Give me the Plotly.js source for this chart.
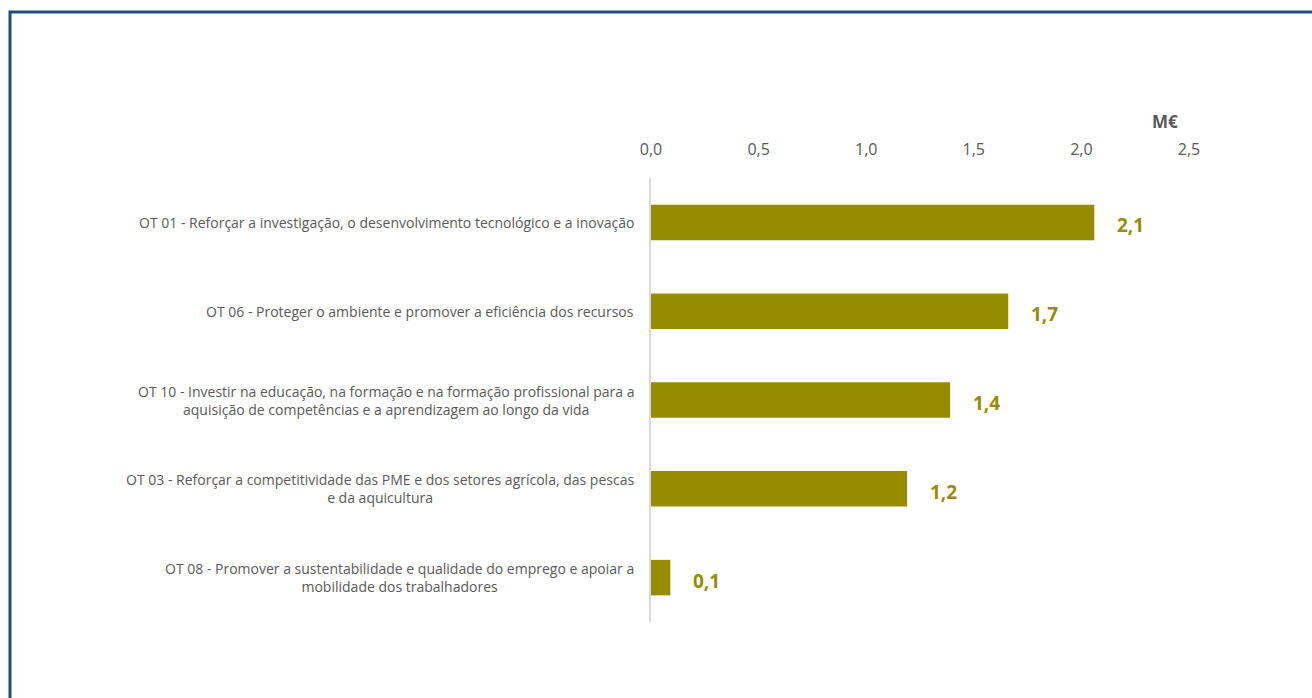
<!DOCTYPE html>
<html>
<head>
<meta charset="utf-8">
<script src="https://cdn.plot.ly/plotly-3.0.1.min.js"></script>
<style>
html,body{margin:0;padding:0;background:#fff;}
#chart{width:1312px;height:698px;}
</style>
</head>
<body>
<div id="chart"></div>
<script>
// Data (top to bottom)
const categories = [
  "OT 01 - Reforçar a investigação, o desenvolvimento tecnológico e a inovação",
  "OT 06 - Proteger o ambiente e promover a eficiência dos recursos",
  "OT 10 - Investir na educação, na formação e na formação profissional para a<br>aquisição de competências e a aprendizagem ao longo da vida",
  "OT 03 - Reforçar a competitividade das PME e dos setores agrícola, das pescas<br>e da aquicultura",
  "OT 08 - Promover a sustentabilidade e qualidade do emprego e apoiar a<br>mobilidade dos trabalhadores"
];
const values = [2.06, 1.66, 1.39, 1.19, 0.09];
const valueLabels = ["2,1", "1,7", "1,4", "1,2", "0,1"];
const axisTitle = "M€";

const barColor = "#978C00";
const labelColor = "#595959";
const font = "'Open Sans', 'Noto Sans', sans-serif";

const ids = categories.map((c, i) => "c" + i);

const trace = {
  type: "bar",
  orientation: "h",
  x: values,
  y: ids,
  marker: {color: barColor},
  hoverinfo: "skip"
};

const annotations = [];
categories.forEach((c, i) => {
  annotations.push({
    xref: "paper", yref: "y", x: 0, y: ids[i],
    xanchor: "right", yanchor: "middle", align: "center",
    xshift: -15, text: c, showarrow: false,
    font: {family: font, size: 14, color: labelColor}
  });
  annotations.push({
    xref: "x", yref: "y", x: values[i], y: ids[i],
    xanchor: "left", yanchor: "middle", xshift: 21, yshift: -3,
    text: "<b>" + valueLabels[i] + "</b>", showarrow: false,
    font: {family: font, size: 19, color: barColor}
  });
});
annotations.push({
  xref: "paper", yref: "paper", x: 0.955, y: 1.128,
  xanchor: "center", yanchor: "middle",
  text: "<b>" + axisTitle + "</b>", showarrow: false,
  font: {family: font, size: 17, color: labelColor}
});

const layout = {
  width: 1312, height: 698,
  margin: {l: 651, r: 123, t: 178, b: 76},
  paper_bgcolor: "#fff", plot_bgcolor: "#fff",
  separators: ",.",
  showlegend: false,
  bargap: 0.6,
  xaxis: {
    side: "top", range: [0, 2.5], dtick: 0.5, tick0: 0,
    tickformat: ".1f", showgrid: false, zeroline: false, showline: false,
    ticks: "outside", ticklen: 16, tickcolor: "rgba(0,0,0,0)",
    tickfont: {family: font, size: 16, color: labelColor},
    fixedrange: true
  },
  yaxis: {
    categoryorder: "array", categoryarray: ids.slice().reverse(),
    showticklabels: false, showgrid: false, zeroline: false,
    showline: true, linecolor: "#D9D9D9", linewidth: 2,
    ticks: "", fixedrange: true
  },
  annotations: annotations,
  shapes: [{
    type: "rect", xref: "paper", yref: "paper",
    x0: (10 - 651) / 538, x1: (1330 - 651) / 538,
    y0: (622 - 720) / 444, y1: (622 - 12) / 444,
    line: {color: "#1F4E79", width: 3}, fillcolor: "rgba(0,0,0,0)", layer: "below"
  }]
};

Plotly.newPlot("chart", [trace], layout, {displayModeBar: false, staticPlot: true});
</script>
</body>
</html>
